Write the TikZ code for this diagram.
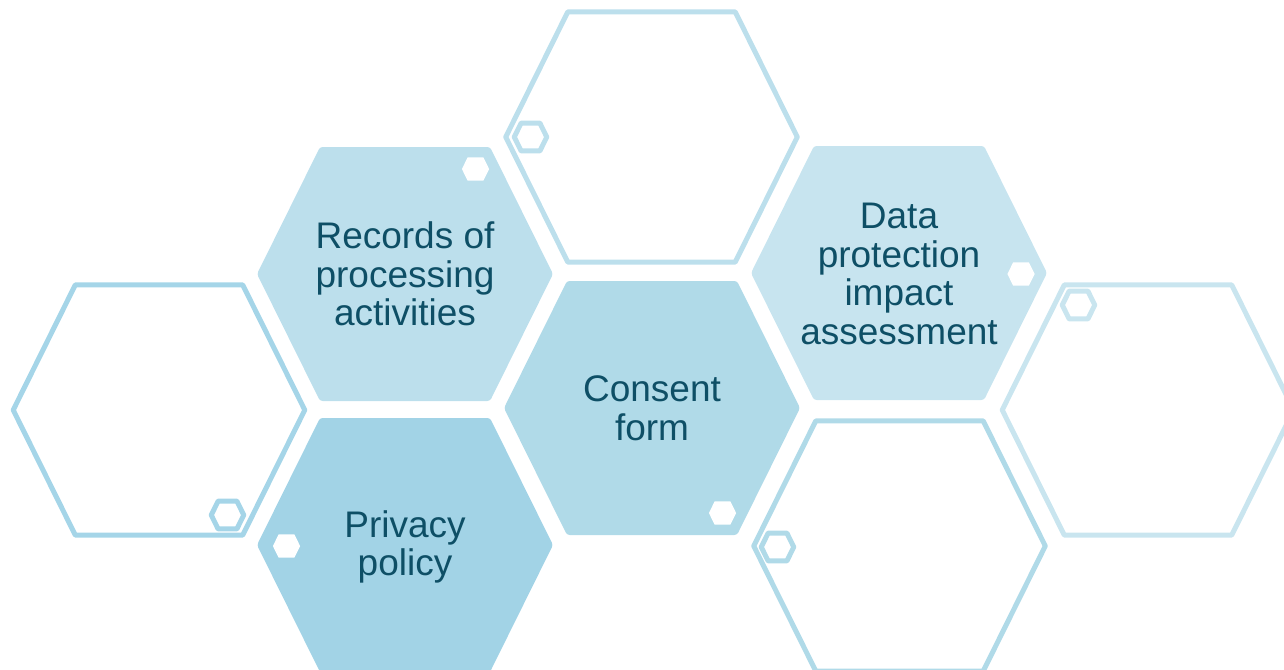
\documentclass[tikz,border=0pt]{standalone}
\usepackage{fontspec}
\setmainfont{Liberation Sans}
\usepackage{xcolor}
\definecolor{txt}{RGB}{14, 79, 102}
\definecolor{rec}{RGB}{188, 223, 236}
\definecolor{pol}{RGB}{162, 211, 230}
\definecolor{con}{RGB}{176, 218, 232}
\definecolor{dpi}{RGB}{199, 228, 239}
\definecolor{lft}{RGB}{165, 213, 232}
\definecolor{rgt}{RGB}{201, 229, 239}

% one hexagon cell: options, centre, scale
\newcommand{\hexcell}[3]{%
  \path[#1, shift={#2}, scale=#3] (-148,0) -- (-85,-127) -- (85,-127) -- (148,0) -- (85,127) -- (-85,127) -- cycle;}

\begin{document}
\begin{tikzpicture}[x=0.75pt, y=-0.75pt, line join=round,
    label/.style={align=center, text=txt, font=\fontsize{27.75}{29}\selectfont}]
      \useasboundingbox (0,0) rectangle (1284,669);
      \clip (0,0) rectangle (1284,669);
      % filled cells
      \hexcell{fill=rec, rounded corners=2}{(405,274)}{1}
      \hexcell{fill=pol, rounded corners=2}{(405,545)}{1}
      \hexcell{fill=con, rounded corners=2}{(652,408)}{1}
      \hexcell{fill=dpi, rounded corners=2}{(899,273)}{1}
      % empty cells
      \hexcell{draw=rec, line width=3.75pt}{(651.5,137)}{0.985}
      \hexcell{draw=lft, line width=3.75pt}{(159,410)}{0.985}
      \hexcell{draw=rgt, line width=3.75pt}{(1148,410)}{0.985}
      \hexcell{draw=con, line width=3.75pt}{(899.5,546)}{0.985}
      % small white cells
      \hexcell{fill=white}{(475.5,169)}{0.092}
      \hexcell{fill=white}{(286.5,546)}{0.092}
      \hexcell{fill=white}{(722.5,513)}{0.092}
      \hexcell{fill=white}{(1021,274)}{0.092}
      % small ring cells
      \hexcell{draw=rec, line width=3.75pt}{(530.5,137)}{0.11}
      \hexcell{draw=lft, line width=3.75pt}{(227.5,515)}{0.11}
      \hexcell{draw=rgt, line width=3.75pt}{(1078.5,305)}{0.11}
      \hexcell{draw=con, line width=3.75pt}{(777.5,547)}{0.11}
      % labels
      \node[label] (records) at (405,274) {Records of\\processing\\activities};
      \node[label] (privacy) at (405,547) {Privacy\\policy};
      \node[label] (consent) at (652,408) {Consent\\form};
      \node[label] (dpia) at (899,274) {Data\\protection\\impact\\assessment};
    \end{tikzpicture}
\end{document}
